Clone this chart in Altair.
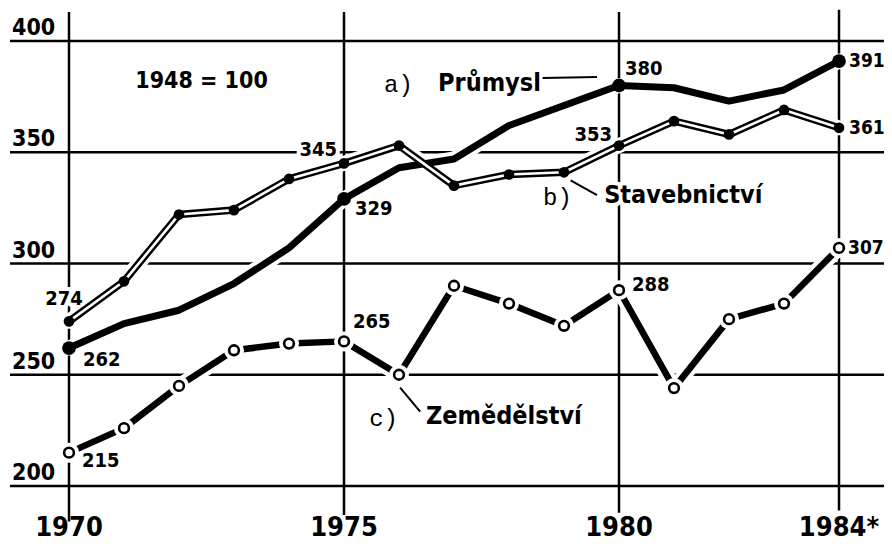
import altair as alt
import pandas as pd

# ---------------- data ----------------
years = list(range(1970, 1985))
prumysl = [262, 273, 279, 291, 307, 329, 343, 347, 362, 371, 380, 379, 373, 378, 391]
stavebnictvi = [274, 292, 322, 324, 338, 345, 353, 335, 340, 341, 353, 364, 358, 369, 361]
zemedelstvi = [215, 226, 245, 261, 264, 265, 250, 290, 282, 272, 288, 244, 275, 282, 307]

label_years = [1970, 1975, 1980, 1984]
x_tick_labels = ["1970", "1975", "1980", "1984*"]
y_ticks = [200, 250, 300, 350, 400]

# ---------------- layout helpers ----------------
W, H = 876, 534
K = 55.0             # px per year
V = 2.225            # px per index point
X0 = 1970 - 61 / K
X1 = X0 + W / K
Y0 = 200 - 56 / V
Y1 = Y0 + H / V

XS = alt.Scale(domain=[X0, X1], nice=False, zero=False)
YS = alt.Scale(domain=[Y0, Y1], nice=False, zero=False)

BOLD = "DejaVu Sans Condensed, Liberation Sans Narrow, DejaVu Sans, sans-serif"
MONO = "Liberation Mono, DejaVu Sans Mono, monospace"


def X(f):
    return alt.X(f, type="quantitative", scale=XS, axis=None)


def Y(f):
    return alt.Y(f, type="quantitative", scale=YS, axis=None)


def series_df(vals):
    return pd.DataFrame({"year": years, "v": vals})


dp = series_df(prumysl)
ds = series_df(stavebnictvi)
dz = series_df(zemedelstvi)

# ---------------- grid ----------------
hgrid = pd.DataFrame({"v": y_ticks, "xa": [1970 - 59 / K] * 5, "xb": [X1] * 5})
vgrid = pd.DataFrame({"year": label_years, "ya": [413, 413, 413, 414], "yb": [184, 187, 188, 189]})

layers = []
layers.append(alt.Chart(hgrid).mark_rule(color="black", strokeWidth=2.5).encode(
    x=X("xa"), x2="xb", y=Y("v")))
layers.append(alt.Chart(vgrid).mark_rule(color="black", strokeWidth=2.5).encode(
    x=X("year"), y=Y("ya"), y2="yb"))

# ---------------- value labels ----------------
# (series values at labelled years, pixel offsets relative to point, alignment, size)
val_labels = [
    (1970, 262, 14, 12, "left", 20), (1975, 329, 11, 10, "left", 20),
    (1980, 380, 6, -17, "left", 20), (1984, 391, 10, 0, "left", 19),
    (1970, 274, -5, -22, "center", 20), (1975, 345, -7, -13, "right", 20),
    (1980, 353, -7, -11, "right", 20), (1984, 361, 10, 0, "left", 19),
    (1970, 215, 13, 8, "left", 20), (1975, 265, 9, -19, "left", 20),
    (1980, 288, 13, -5, "left", 20), (1984, 307, 9, 0, "left", 19),
]
vl = pd.DataFrame([{
    "x": y_ + dx / K, "y": v - dy / V, "t": str(v), "al": al, "fs": fs}
    for (y_, v, dx, dy, al, fs) in val_labels])

# annotations (in data units)
ann = [
    # text, year, value, align, font, size, weight
    ("1948 = 100", 1972.41, 382.0, "center", BOLD, 23, "bold"),
    ("a)", 1975.99, 380.3, "center", MONO, 24, "normal"),
    ("Průmysl", 1976.71, 381.3, "left", BOLD, 25, "bold"),
    ("b)", 1978.88, 329.3, "center", MONO, 24, "normal"),
    ("Stavebnictví", 1979.73, 330.9, "left", BOLD, 25, "bold"),
    ("c)", 1975.72, 230.2, "center", MONO, 24, "normal"),
    ("Zemědělství", 1976.49, 231.3, "left", BOLD, 25, "bold"),
]
leaders = pd.DataFrame({
    "xa": [1978.61, 1979.12, 1976.02],
    "xb": [1979.60, 1979.60, 1976.385],
    "ya": [383.4, 337.4, 244.2],
    "yb": [383.8, 330.7, 233.4],
})


def text_layers(df, halo, **kw):
    base = alt.Chart(df)
    if halo:
        return base.mark_text(stroke="white", strokeWidth=8, strokeJoin="round",
                              fill="white", baseline="middle", **kw).encode(
            x=X("x"), y=Y("y"), text="t:N")
    return base.mark_text(color="black", baseline="middle", **kw).encode(
        x=X("x"), y=Y("y"), text="t:N")


def all_texts(halo):
    out = []
    for al in ["left", "center", "right"]:
        for fs in (19, 20):
            sub = vl[(vl["al"] == al) & (vl["fs"] == fs)]
            if len(sub):
                out.append(text_layers(sub, halo, align=al, font=BOLD, fontSize=fs,
                                       fontWeight="bold"))
    for (t, xx, yy, al, font, size, wt) in ann:
        out.append(text_layers(pd.DataFrame({"x": [xx], "y": [yy], "t": [t]}), halo,
                               align=al, font=font, fontSize=size, fontWeight=wt))
    return out


layers += all_texts(True)

# y tick labels (left, above their gridline)
ydf = pd.DataFrame({"x": [1970 - 57 / K] * 5, "y": y_ticks, "t": [str(v) for v in y_ticks]})
layers.append(alt.Chart(ydf).mark_text(stroke="white", strokeWidth=6, fill="white",
                                       align="left", baseline="alphabetic", dy=-6,
                                       font=BOLD, fontSize=23, fontWeight="bold").encode(
    x=X("x"), y=Y("y"), text="t:N"))

# ---------------- series halos ----------------
for d in (dp, ds, dz):
    layers.append(alt.Chart(d).mark_line(color="white", strokeWidth=15,
                                         strokeJoin="round", strokeCap="round").encode(
        x=X("year"), y=Y("v")))

# Zemědělství: thick segments broken at open circles
layers.append(alt.Chart(dz).mark_line(color="black", strokeWidth=6.5,
                                      strokeJoin="round").encode(x=X("year"), y=Y("v")))
layers.append(alt.Chart(dz).mark_point(shape="circle", filled=True, color="white",
                                       opacity=1, size=400).encode(x=X("year"), y=Y("v")))
layers.append(alt.Chart(dz).mark_point(shape="circle", filled=False, fill="white",
                                       stroke="black", strokeWidth=2.6, opacity=1,
                                       size=95).encode(x=X("year"), y=Y("v")))

# Průmysl: thick black line with filled dots at labelled years
layers.append(alt.Chart(dp).mark_line(color="black", strokeWidth=7, strokeJoin="round",
                                      strokeCap="round").encode(x=X("year"), y=Y("v")))
dpl = dp[dp["year"].isin(label_years)]
layers.append(alt.Chart(dpl).mark_point(shape="circle", filled=True, color="black",
                                        opacity=1, size=190).encode(x=X("year"), y=Y("v")))

# Stavebnictví: double (outlined) line with filled dots
layers.append(alt.Chart(ds).mark_line(color="black", strokeWidth=7.5, strokeJoin="round",
                                      strokeCap="round").encode(x=X("year"), y=Y("v")))
layers.append(alt.Chart(ds).mark_line(color="white", strokeWidth=2.6,
                                      strokeJoin="round").encode(x=X("year"), y=Y("v")))
layers.append(alt.Chart(ds).mark_point(shape="circle", filled=True, color="black",
                                       opacity=1, size=115).encode(x=X("year"), y=Y("v")))

# leader lines
layers.append(alt.Chart(leaders).mark_rule(color="black", strokeWidth=2).encode(
    x=X("xa"), x2="xb", y=Y("ya"), y2="yb"))

# ---------------- texts ----------------
layers += all_texts(False)
layers.append(alt.Chart(ydf).mark_text(color="black", align="left", baseline="alphabetic",
                                       dy=-6, font=BOLD, fontSize=23,
                                       fontWeight="bold").encode(
    x=X("x"), y=Y("y"), text="t:N"))

xdf = pd.DataFrame({"x": label_years, "y": [181] * 4, "t": x_tick_labels})
layers.append(alt.Chart(xdf).mark_text(color="black", align="center", baseline="middle",
                                       font=BOLD, fontSize=27, fontWeight="bold").encode(
    x=X("x"), y=Y("y"), text="t:N"))

chart = alt.layer(*layers).properties(
    width=W, height=H, padding=0,
    autosize=alt.AutoSizeParams(type="none"),
    background="white",
).configure_view(stroke=None)

chart.save("out.html", embed_options={"renderer": "svg", "actions": False})
